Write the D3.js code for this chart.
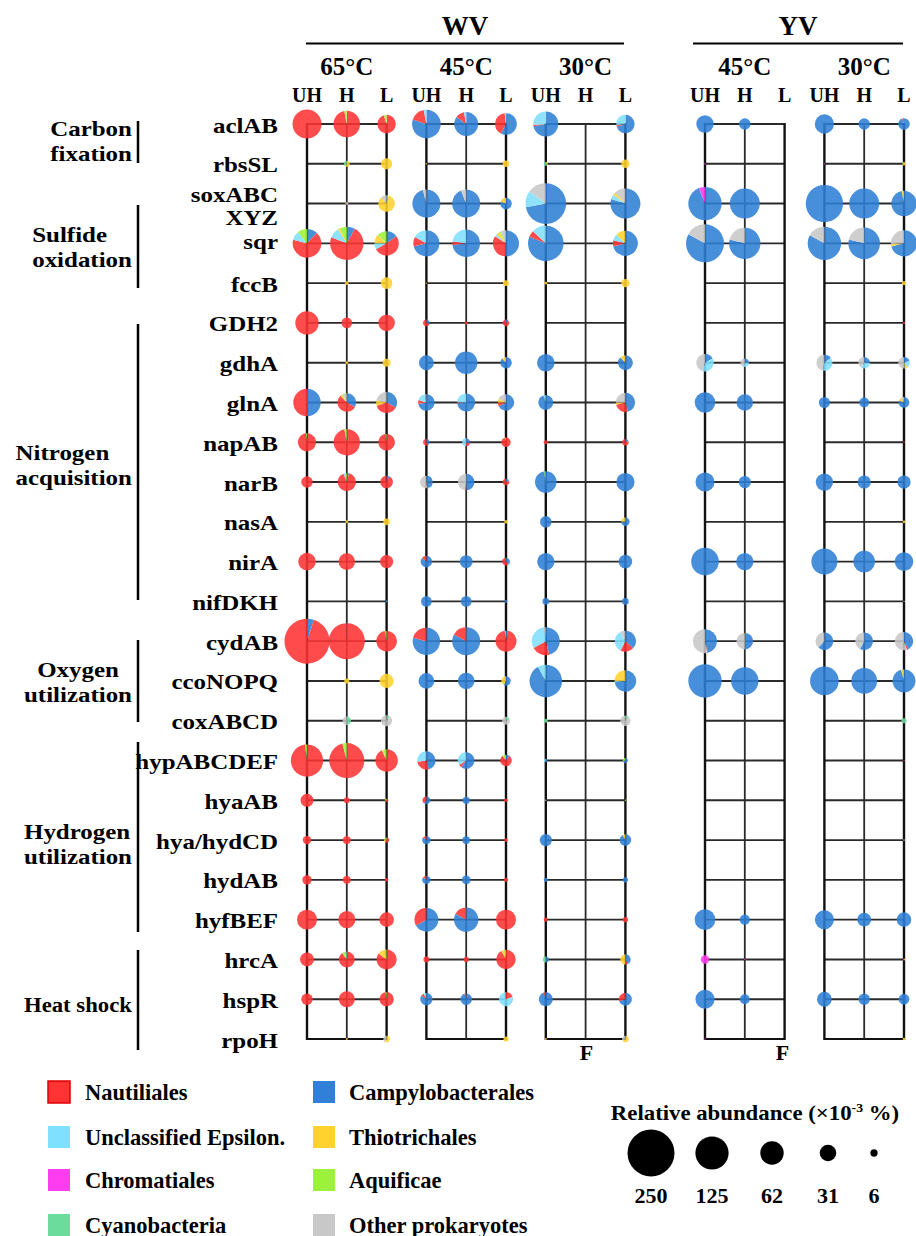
<!DOCTYPE html>
<html><head><meta charset="utf-8">
<script src="https://cdn.jsdelivr.net/npm/d3@7"></script>
<style>
body{margin:0;background:#fff;}
svg text{font-family:"Liberation Serif","Times New Roman",serif;font-weight:bold;fill:#000;}
</style></head>
<body>
<svg id="chart" width="916" height="1236"></svg>
<script>
// ---------- DATA ----------
const genes = ["aclAB","rbsSL","soxABC XYZ","sqr","fccB","GDH2","gdhA","glnA","napAB","narB","nasA","nirA","nifDKH",
  "cydAB","ccoNOPQ","coxABCD","hypABCDEF","hyaAB","hya/hydCD","hydAB","hyfBEF","hrcA","hspR","rpoH"];
const sites = ["WV","YV"];
const temps = [["WV","65°C"],["WV","45°C"],["WV","30°C"],["YV","45°C"],["YV","30°C"]];
const levels = ["UH","H","L"];
const taxaKeys = ["C","N","U","T","M","A","Y","O"]; // clockwise order from 12 o'clock
const taxaNames = {N:"Nautiliales",C:"Campylobacterales",U:"Unclassified Epsilon.",T:"Thiotrichales",
  M:"Chromatiales",A:"Aquificae",Y:"Cyanobacteria",O:"Other prokaryotes"};
const taxaColors = {N:"#ff3333",C:"#2f80d6",U:"#80e0ff",T:"#ffd22e",M:"#ff3cf0",A:"#9cf23a",Y:"#6cdc9c",O:"#c8c8c8"};
const legendCol1 = ["N","U","M","Y"];
const legendCol2 = ["C","T","A","O"];
const sizeLegend = [250,125,62,31,6];
const groups = [
  {lines:["Carbon","fixation"], rows:[0,1]},
  {lines:["Sulfide","oxidation"], rows:[2,4]},
  {lines:["Nitrogen","acquisition"], rows:[5,12]},
  {lines:["Oxygen","utilization"], rows:[13,15]},
  {lines:["Hydrogen","utilization"], rows:[16,20]},
  {lines:["Heat shock"], rows:[21,23]}
];
// totals (×10^-3 %) per gene; columns: WV65 UH,H,L | WV45 UH,H,L | WV30 UH,H,L | YV45 UH,H,L | YV30 UH,H,L
const totals = [
  [95,80,38, 93,65,53, 71,0,38, 34,15,0, 42,15,15],
  [0,4,14, 0.3,0,5, 2,0,8, 0.3,0,0, 0.2,0,1.3],
  [0,1,31, 89,89,15, 187,0,102, 126,102,0, 158,102,73],
  [93,126,67, 77,86,77, 143,0,71, 163,111,0, 126,113,77],
  [0,1.5,15, 0.2,0,4, 1,0,8, 0,0,0, 0,0,2],
  [62,13,31, 5,1,5, 0,0,0, 0,0,0, 0,0,0.5],
  [0,1,7, 25,57,15, 35,0,25, 34,8,0, 29,15,15],
  [85,39,50, 31,37,30, 25,0,42, 48,31,0, 14,11,13],
  [37,79,31, 5,7,10, 2,0,5, 0,0,0, 0,0,0.3],
  [15,37,18, 18,31,5, 53,0,38, 41,17,0, 34,20,20],
  [0,1,5, 0,0,1.5, 15,0,8, 0,0,0, 0,0,0.8],
  [35,31,20, 15,19,7, 34,0,21, 86,34,0, 77,53,39],
  [0,0,0.5, 13,13,1, 5,0,5, 0,0,0, 0,0,0.2],
  [229,147,48, 85,89,50, 89,0,50, 65,31,0, 35,35,38],
  [0,3,23, 28,31,10, 120,0,53, 126,85,0, 93,75,60],
  [0,8,14, 0,0,7, 2,0,12, 0,0,0, 0,0,3],
  [118,139,57, 38,31,15, 1.5,0,3, 0,0,0, 0,0,0.2],
  [19,4,1.5, 7,6,1.5, 0.3,0,0.3, 0,0,0, 0,0,0],
  [8,7,3, 8,7,1.5, 17,0,15, 0,0,0, 0,0,0.3],
  [10,7,1.5, 8,9,2, 2,0,3, 0,0,0, 0,0,0],
  [45,33,24, 65,67,45, 2,0,3, 48,12,0, 41,22,24],
  [22,28,45, 4,3,42, 4,0,12, 8,0.2,0, 0,0,0.5],
  [15,29,23, 17,15,22, 22,0,19, 41,11,0, 25,15,13],
  [0,0.5,5, 0,0,3, 0.5,0,5, 0.2,0,0, 0,0,0.8]
];
// taxonomic composition (%) per cell
const mixes = [
  ["N","N97 A3","N95 A5", "C80 N17 U3","C85 N12 U3","C58 N40 A2", "C72 N2 U26","","C70 N3 U27", "C","C","", "C","C","C95 N5"],
  ["","T60 Y40","T", "T","","T", "Y70 T30","","T", "M","","", "M","","T70 A30"],
  ["","T50 O50","T85 U3 O12", "C96 O4","C94 O6","C80 T20", "C72 U13 O15","","C80 U5 T3 O12", "C94 M6","C","", "C","C","C97 T3"],
  ["C12 N67 U10 A11","C8 N73 U10 T2 A7","C15 N52 U8 T12 A13", "C71 N12 U17","C73 N4 U23","C50 N34 U3 T4 A2 O7", "C81 N6 U13","","C71 N8 U8 T13", "C83 O17","C79 O21","", "C83 O17","C79 O21","C71 T3 O26"],
  ["","T","T", "T","","T", "T","","T", "","","", "","","T"],
  ["N","N","N", "C30 N70","N","C15 N85", "","","", "","","", "","","N"],
  ["","T","T", "C","C","C88 T12", "C","","C88 T12", "C17 U38 O45","C25 U33 O42","", "C15 U38 O47","C25 U35 O40","C20 U20 T8 O52"],
  ["C50 N50","C33 N55 T4 O8","C33 N37 T8 O22", "C72 N8 U17 O3","C73 N2 U25","C67 N8 T8 O17", "C95 U5","","C46 N25 T4 O25", "C","C","", "C","C","C80 T12 O8"],
  ["N98 A2","N97 A3","N98 A2", "C40 N60","C30 N20 U50","N95 A5", "N","","C20 N80", "","","", "","","N"],
  ["N","C4 N90 U3 A3","C8 N92", "C45 N3 O52","C50 N2 O48","C20 N80", "C97 Y3","","C", "C","C","", "C","C","C"],
  ["","T","T", "","","T", "C","","C75 T25", "","","", "","","T"],
  ["N","N","N", "C86 N14","C","C40 N60", "C","","C", "C","C","", "C","C","C"],
  ["","","C", "C","C","C", "C","","C", "","","", "","","O"],
  ["C5 N95","C1 N99","N97 A3", "C79 N21","C83 N17","C3 N95 U2", "C46 N21 U31 O2","","C37 N21 U34 O8", "C46 N1 O53","C50 O50","", "C62 O38","C58 O42","C42 N3 O55"],
  ["","T","T", "C","C","C58 T42", "C92 U8","","C73 U2 T25", "C","C","", "C","C","C96 T4"],
  ["","Y50 O50","Y10 O90", "","","Y20 O80", "Y","","Y10 O90", "","","", "","","Y"],
  ["N98 A2","N96 A4","N93 T2 A5", "C46 N27 U27","C60 N6 U34","C10 N80 A10", "C60 U40","","C70 A30", "","","", "","","N"],
  ["N","N","N70 A30", "C60 N40","C","N", "O","","A", "","","", "","",""],
  ["N","N","N60 T20 A20", "C85 N15","C","N", "C","","C92 T8", "","","", "","","O"],
  ["N","N","N", "C85 N15","C","N", "C","","C", "","","", "","",""],
  ["N","N","N", "C67 N33","C83 N17","N", "N","","N", "C","C","", "C","C","C"],
  ["N","N90 A5 Y5","N85 T12 A3", "N","N","N92 T5 A3", "C50 Y50","","C42 N8 T50", "M","M","", "","","T50 M50"],
  ["N","N","N97 A3", "C85 N8 U7","C95 N5","N20 U78 A2", "C95 N5","","C70 N30", "C","C","", "C","C","C"],
  ["","T","T60 O40", "","","T", "T","","T65 O35", "M","","", "","","T"]
];

// ---------- LAYOUT ----------
const svg = d3.select("#chart");
const colSlots = [0,1,2, 3,4,5, 6,7,8, 10,11,12, 13,14,15];
const x = d3.scaleLinear().domain([0,15]).range([307,904]);
const y = d3.scaleLinear().domain([0,genes.length-1]).range([124,1039]);
const r = d3.scaleSqrt().domain([0,250]).range([0,23.5]);
const panelStarts = [0,3,6,10,13];

function parseMix(s){
  const o={};
  s.split(" ").forEach(tok=>{ if(!tok) return; const k=tok[0]; const v=tok.length>1?+tok.slice(1):100; o[k]=v;});
  return taxaKeys.map(k=>({k, v:o[k]||0}));
}

// grid
const grid = svg.append("g");
panelStarts.forEach(s=>{
  const x0=x(s), x2=x(s+2), x1=x(s+1);
  genes.forEach((g,i)=>{
    grid.append("line").attr("x1",x0).attr("x2",x2).attr("y1",y(i)).attr("y2",y(i))
      .attr("stroke", i===genes.length-1?"#111":"#2a2a2a").attr("stroke-width", i===genes.length-1?2.2:1.9);
  });
  grid.append("line").attr("x1",x1).attr("x2",x1).attr("y1",y(0)).attr("y2",y(genes.length-1))
    .attr("stroke","#2a2a2a").attr("stroke-width",1.8);
  [x0,x2].forEach(xx=>grid.append("line").attr("x1",xx).attr("x2",xx).attr("y1",y(0)-1).attr("y2",y(genes.length-1)+1)
    .attr("stroke","#111").attr("stroke-width",2.4));
});

// pies
const pie = d3.pie().sort(null).value(d=>d.v);
const pies = svg.append("g");
genes.forEach((g,i)=>{
  totals[i].forEach((t,j)=>{
    if(!(t>0)) return;
    const parts = parseMix(mixes[i][j]);
    const arc = d3.arc().innerRadius(0).outerRadius(r(t));
    const cg = pies.append("g").attr("transform",`translate(${x(colSlots[j])},${y(i)})`).attr("opacity",0.88);
    cg.selectAll("path").data(pie(parts).filter(d=>d.data.v>0)).join("path")
      .attr("d",arc).attr("fill",d=>taxaColors[d.data.k]);
  });
});

// headers
sites.forEach(s=>{
  const x0 = s==="WV"? 306: 693, x1 = s==="WV"? 624: 903;
  svg.append("line").attr("x1",x0).attr("x2",x1).attr("y1",43.5).attr("y2",43.5).attr("stroke","#000").attr("stroke-width",2.2);
  svg.append("text").attr("x",(x0+x1)/2).attr("y",35).attr("text-anchor","middle").attr("font-size",27).text(s);
});
temps.forEach((t,p)=>{
  svg.append("text").attr("x",x(panelStarts[p]+1)).attr("y",75).attr("text-anchor","middle").attr("font-size",25).text(t[1]);
  levels.forEach((l,k)=>{
    svg.append("text").attr("x",x(panelStarts[p]+k)).attr("y",101.5).attr("text-anchor","middle").attr("font-size",20).text(l);
  });
});
// F labels
svg.append("text").attr("x",x(7)+1).attr("y",1060).attr("text-anchor","middle").attr("font-size",22).text("F");
svg.append("text").attr("x",x(12)-2).attr("y",1060).attr("text-anchor","middle").attr("font-size",22).text("F");

// gene labels (horizontally stretched font as in the figure)
const sx = 1.16;
genes.forEach((g,i)=>{
  if(g==="soxABC XYZ"){
    [["soxABC",202],["XYZ",225]].forEach(([txt,yy])=>{
      svg.append("text").attr("transform",`translate(278,${yy}) scale(${sx},1)`).attr("text-anchor","end").attr("font-size",21.5).text(txt);
    });
  } else {
    const yy = g==="sqr" ? 249 : y(i)+8.5;
    svg.append("text").attr("transform",`translate(278,${yy}) scale(${sx},1)`).attr("text-anchor","end").attr("font-size",21.5).text(g);
  }
});

// group labels: left-aligned block (Oxygen centred) whose longest line ends just left of the bar
const groupBar = [[121,163],[205,288],[324,600],[640,722],[742,932],[950,1050]];
const groupCenter = [141,247,465,682,844,1005];
const groupLeft = [50,32,15,24,24,24];
const rightEdge = 132;
groups.forEach((gr,gi)=>{
  svg.append("line").attr("x1",138).attr("x2",138).attr("y1",groupBar[gi][0]).attr("y2",groupBar[gi][1])
    .attr("stroke","#000").attr("stroke-width",2.5);
  const n = gr.lines.length;
  const nodes = gr.lines.map((ln,li)=>{
    const yy = groupCenter[gi] + (li-(n-1)/2)*25 + 7;
    const t = svg.append("text").attr("font-size",21.5).text(ln);
    return {t, yy, w: t.node().getComputedTextLength()};
  });
  const maxW = d3.max(nodes, d=>d.w);
  const gsx = Math.min(1.16, (rightEdge - groupLeft[gi]) / maxW);
  const left = rightEdge - maxW*gsx;
  const centered = gr.lines[0]==="Oxygen";
  nodes.forEach(d=>{
    const xx = centered ? left + (maxW - d.w)*gsx/2 : left;
    d.t.attr("transform",`translate(${xx},${d.yy}) scale(${gsx},1)`);
  });
});

// taxa legend
const legRows = [1092,1137,1180,1225];
[[legendCol1,48,85],[legendCol2,313,349]].forEach(([keys,sqx,tx])=>{
  keys.forEach((k,ri)=>{
    svg.append("rect").attr("x",sqx).attr("y",legRows[ri]-11).attr("width",22).attr("height",22)
      .attr("fill",taxaColors[k]).attr("stroke",k==="N"?"#e00000":"none").attr("stroke-width",1.5);
    svg.append("text").attr("x",tx).attr("y",legRows[ri]+7.5).attr("font-size",22.5).text(taxaNames[k]);
  });
});

// size legend
const st = svg.append("text").attr("transform","translate(755,1120) scale(1.06,1)").attr("text-anchor","middle").attr("font-size",21.5);
st.append("tspan").text("Relative abundance (×10");
st.append("tspan").attr("dy",-8).attr("font-size",13).text("-3");
st.append("tspan").attr("dy",8).text(" %)");
const sizeX = [651,712,772,828,874];
sizeLegend.forEach((v,i)=>{
  svg.append("circle").attr("cx",sizeX[i]).attr("cy",1153).attr("r",r(v)).attr("fill","#000");
  svg.append("text").attr("x",sizeX[i]).attr("y",1203).attr("text-anchor","middle").attr("font-size",22).text(v);
});
</script>
</body></html>
